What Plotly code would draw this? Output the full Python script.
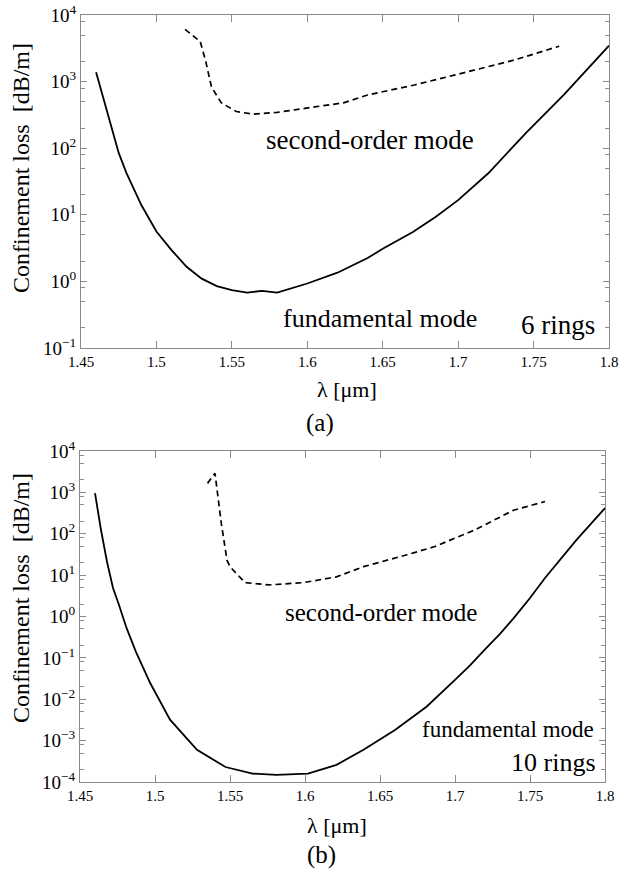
import plotly.graph_objects as go

# ---------------- data ----------------
# (a) 6 rings
lam_fund_a = [1.460, 1.475, 1.480, 1.490, 1.500, 1.510, 1.520, 1.530, 1.540,
              1.550, 1.560, 1.570, 1.580, 1.590, 1.600, 1.620, 1.640, 1.650, 1.670,
              1.685, 1.700, 1.720, 1.745, 1.770, 1.800]
loss_fund_a = [1380, 85, 43, 14, 5.6, 2.95, 1.66, 1.10, 0.85,
               0.74, 0.68, 0.72, 0.68, 0.79, 0.93, 1.35, 2.24, 3.1, 5.5,
               9.3, 16.6, 42, 170, 630, 3470]

lam_second_a = [1.519, 1.529, 1.5325, 1.5365, 1.543, 1.553, 1.564, 1.580, 1.606,
                1.624, 1.640, 1.671, 1.698, 1.737, 1.767]
loss_second_a = [6100, 4000, 2100, 830, 480, 355, 325, 345, 420,
                 480, 630, 890, 1260, 2100, 3400]

# (b) 10 rings
lam_fund_b = [1.460, 1.464, 1.468, 1.472, 1.476, 1.481, 1.4873, 1.4967, 1.510,
              1.528, 1.547, 1.565, 1.581, 1.602, 1.621, 1.639, 1.660, 1.681,
              1.700, 1.710, 1.720, 1.730, 1.739, 1.750, 1.760, 1.781, 1.800]
loss_fund_b = [955, 123, 21, 4.9, 1.9, 0.53, 0.14, 0.025, 0.0032,
               6.0e-4, 2.3e-4, 1.6e-4, 1.48e-4, 1.6e-4, 2.6e-4, 6.0e-4, 1.8e-3, 6.6e-3,
               0.0295, 0.066, 0.16, 0.38, 0.9, 2.8, 8.5, 71, 417]

lam_second_b = [1.535, 1.540, 1.5442, 1.548, 1.550, 1.560, 1.576, 1.599, 1.621,
                1.639, 1.668, 1.6865, 1.713, 1.739, 1.760]
loss_second_b = [1650, 2900, 178, 23, 16, 6.6, 5.8, 6.6, 9.1,
                 16, 31, 49, 123, 370, 600]

x_tick_vals = [1.45, 1.5, 1.55, 1.6, 1.65, 1.7, 1.75, 1.8]
x_tick_text = ["1.45", "1.5", "1.55", "1.6", "1.65", "1.7", "1.75", "1.8"]

y_tick_vals_a = [1e-1, 1e0, 1e1, 1e2, 1e3, 1e4]
y_tick_text_a = ["10<sup>−1</sup>", "10<sup>0</sup>", "10<sup>1</sup>",
                 "10<sup>2</sup>", "10<sup>3</sup>", "10<sup>4</sup>"]
y_tick_vals_b = [1e-4, 1e-3, 1e-2, 1e-1, 1e0, 1e1, 1e2, 1e3, 1e4]
y_tick_text_b = ["10<sup>−4</sup>", "10<sup>−3</sup>", "10<sup>−2</sup>", "10<sup>−1</sup>",
                 "10<sup>0</sup>", "10<sup>1</sup>", "10<sup>2</sup>",
                 "10<sup>3</sup>", "10<sup>4</sup>"]
minor_mult = [2, 5, 8]

# ---------------- figure ----------------
W, H = 620, 871
FONT = "Liberation Serif, Times New Roman, Times, DejaVu Serif, serif"
AXC = "#8a8a8a"


def px(x):
    return x / W


def py(y):
    return 1 - y / H


def minor_vals(lo, hi):
    vals = []
    for e in range(lo, hi):
        for m in minor_mult:
            vals.append(m * 10.0 ** e)
    return vals


fig = go.Figure()
solid = dict(color="black", width=1.8)
dashed = dict(color="black", width=1.7, dash="6px,4px")

fig.add_trace(go.Scatter(x=lam_fund_a, y=loss_fund_a, mode="lines", line=solid,
                         xaxis="x", yaxis="y", showlegend=False))
fig.add_trace(go.Scatter(x=lam_second_a, y=loss_second_a, mode="lines", line=dashed,
                         xaxis="x", yaxis="y", showlegend=False))
fig.add_trace(go.Scatter(x=lam_fund_b, y=loss_fund_b, mode="lines", line=solid,
                         xaxis="x2", yaxis="y2", showlegend=False))
fig.add_trace(go.Scatter(x=lam_second_b, y=loss_second_b, mode="lines", line=dashed,
                         xaxis="x2", yaxis="y2", showlegend=False))

xcommon = dict(range=[1.45, 1.8], tickvals=x_tick_vals, ticktext=x_tick_text,
               showline=True, linecolor=AXC, linewidth=1, mirror="ticks",
               ticks="inside", ticklen=7, tickcolor=AXC, tickwidth=1,
               showgrid=False, zeroline=False, automargin=False,
               tickfont=dict(family=FONT, size=15, color="black"))


def ycommon(vals, text, lo, hi):
    return dict(type="log", range=[lo, hi], tickvals=vals, ticktext=text,
                showline=True, linecolor=AXC, linewidth=1, mirror="ticks",
                ticks="inside", ticklen=6, tickcolor=AXC, tickwidth=1,
                showgrid=False, zeroline=False, automargin=False,
                minor=dict(tickvals=minor_vals(lo, hi), ticks="inside", ticklen=4,
                           tickcolor=AXC, tickwidth=1, showgrid=False),
                tickfont=dict(family=FONT, size=19, color="black"))


fig.update_layout(
    width=W, height=H, autosize=False,
    margin=dict(l=0, r=0, t=0, b=0, pad=0, autoexpand=False),
    paper_bgcolor="white", plot_bgcolor="white",
    xaxis=dict(domain=[px(81), px(609)], anchor="y", **xcommon),
    yaxis=dict(domain=[py(348), py(15)], anchor="x",
               **ycommon(y_tick_vals_a, y_tick_text_a, -1, 4)),
    xaxis2=dict(domain=[px(80), px(605)], anchor="y2", **xcommon),
    yaxis2=dict(domain=[py(782), py(451)], anchor="x2",
                **ycommon(y_tick_vals_b, y_tick_text_b, -4, 4)),
)

anns = [
    # panel (a)
    dict(text="second-order mode", x=px(370), y=py(140), size=27),
    dict(text="fundamental mode", x=px(380), y=py(318), size=26),
    dict(text="6 rings", x=px(597), y=py(325), size=27, xanchor="right"),
    dict(text="λ [μm]", x=px(347), y=py(390), size=22),
    dict(text="(a)", x=px(320), y=py(423), size=25),
    dict(text="Confinement loss  [dB/m]", x=px(21), y=py(168), size=24, textangle=-90),
    # panel (b)
    dict(text="second-order mode", x=px(381), y=py(612), size=25),
    dict(text="fundamental mode", x=px(596), y=py(729), size=23, xanchor="right"),
    dict(text="10 rings", x=px(598), y=py(762), size=26, xanchor="right"),
    dict(text="λ [μm]", x=px(337), y=py(825), size=22),
    dict(text="(b)", x=px(321), y=py(855), size=25),
    dict(text="Confinement loss  [dB/m]", x=px(21), y=py(598), size=24, textangle=-90),
]
annotations = []
for a in anns:
    annotations.append(dict(
        text=a["text"], x=a["x"], y=a["y"], xref="paper", yref="paper",
        xanchor=a.get("xanchor", "center"), yanchor="middle",
        showarrow=False, textangle=a.get("textangle", 0),
        font=dict(family=FONT, size=a["size"], color="black")))
fig.update_layout(annotations=annotations)

fig.write_html(
    "out.html",
    config={"displayModeBar": False},
    post_script="document.body.style.margin='0px';document.body.style.overflow='hidden';",
)
